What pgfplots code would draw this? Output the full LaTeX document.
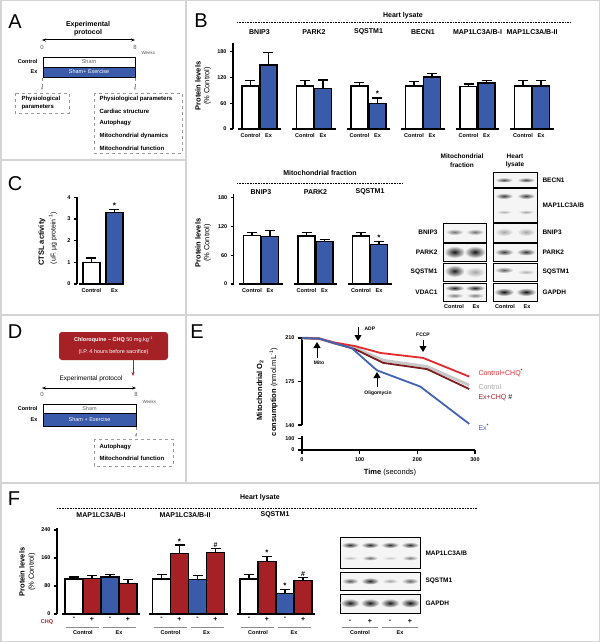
\documentclass[border=0pt]{standalone}
\usepackage{fontspec}
\setmainfont{Liberation Sans}
\usepackage{pgfplots}
\pgfplotsset{compat=1.18}
\usetikzlibrary{arrows.meta}
\definecolor{exblue}{HTML}{3A5BAA}
\definecolor{chqred}{HTML}{A52126}
\definecolor{panelgray}{HTML}{D4D4D4}
\definecolor{lnred}{HTML}{E2292E}
\definecolor{lndark}{HTML}{7A1E22}
\definecolor{lngray}{HTML}{C8C8C8}
\definecolor{lnblue}{HTML}{4262B2}
\newcommand{\fs}[1]{\fontsize{#1}{#1}\selectfont}
\newcommand{\band}[5]{\shade[inner color=black!#5, outer color=gray!8] (#1,#2) ellipse (#3pt and #4pt);}
\newcommand{\blot}[4]{\draw[line width=0.8pt, fill=gray!8] (#1,#2) rectangle (#3,#4);}
\tikzset{sig/.style={font=\fs{8}\bfseries, anchor=south, inner sep=0.5pt}}
\pgfplotsset{
 barax/.style={
   scale only axis, anchor=south west, clip=false,
   axis x line*=bottom, axis y line*=left,
   x axis line style={draw=none},
   y axis line style={-, line width=1.2pt},
   every tick/.style={black, line width=1.2pt},
   xtick style={draw=none},
   major tick length=3pt,
   tick align=outside,
   /pgf/number format/assume math mode=true,
   yticklabel style={font=\fs{5.5}\bfseries},
   xticklabel style={font=\fs{5.5}\bfseries, yshift=2pt},
   error bars/y dir=plus, error bars/y explicit,
   error bars/error bar style={line width=1.2pt, black},
   error bars/error mark options={rotate=90, mark size=5pt, line width=1.2pt, black},
 },
 ctl/.style={fill=white, draw=black, line width=1.2pt},
 exb/.style={fill=exblue, draw=black, line width=1.2pt},
 chq/.style={fill=chqred, draw=black, line width=1.2pt},
}

\begin{document}
\begin{tikzpicture}
\useasboundingbox (0,0) rectangle (600pt,-642pt);
\begin{scope}[x=1pt,y=-1pt]
 \fill[white] (0,0) rectangle (600,642);
 \draw[panelgray, line width=1.5pt] (0.75,0.75) rectangle (599.25,641.25);
 \draw[panelgray, line width=1.5pt] (0,315) -- (600,315) (0,483) -- (600,483) (186,0) -- (186,483) (0,160) -- (186,160);
\end{scope}

% ---------- B heart lysate ----------
\begin{axis}[barax, ybar=1pt, bar width=17pt, at={(233pt,-129pt)}, width=342pt, height=85.9pt,
 xmin=-0.486, xmax=5.789, ymin=0, ymax=200, ytick={0,60,120,180},
 xtick={-0.165,0.165,0.835,1.165,1.835,2.165,2.835,3.165,3.835,4.165,4.835,5.165},
 xticklabels={Control,Ex,Control,Ex,Control,Ex,Control,Ex,Control,Ex,Control,Ex}]
\addplot[ctl] coordinates {(0,100) +- (0,13) (1,100) +- (0,12) (2,100) +- (0,8) (3,100) +- (0,10) (4,99) +- (0,6) (5,100) +- (0,12)};
\addplot[exb] coordinates {(0,149) +- (0,30) (1,95) +- (0,19) (2,60) +- (0,12) (3,121) +- (0,9) (4,107) +- (0,6) (5,100) +- (0,12)};
\draw[line width=1.2pt] (axis cs:-0.4,0) -- (axis cs:0.4,0) (axis cs:0.6,0) -- (axis cs:1.4,0) (axis cs:1.6,0) -- (axis cs:2.4,0) (axis cs:2.6,0) -- (axis cs:3.4,0) (axis cs:3.6,0) -- (axis cs:4.4,0) (axis cs:4.6,0) -- (axis cs:5.4,0);
\node[sig] at (axis cs:2.165,73) {*};
\end{axis}

% ---------- B mitochondrial fraction ----------
\begin{axis}[barax, ybar=1pt, bar width=17pt, at={(233.75pt,-284pt)}, width=163.5pt, height=90.2pt,
 xmin=-0.5, xmax=2.5, ymin=0, ymax=188, ytick={0,60,120,180},
 xtick={-0.165,0.165,0.835,1.165,1.835,2.165},
 xticklabels={Control,Ex,Control,Ex,Control,Ex}]
\addplot[ctl] coordinates {(0,101) +- (0,7) (1,100) +- (0,8) (2,100) +- (0,8)};
\addplot[exb] coordinates {(0,99) +- (0,13) (1,89) +- (0,3) (2,82) +- (0,6)};
\draw[line width=1.2pt] (axis cs:-0.4,0) -- (axis cs:0.4,0) (axis cs:0.6,0) -- (axis cs:1.4,0) (axis cs:1.6,0) -- (axis cs:2.4,0);
\node[sig] at (axis cs:2.165,89) {*};
\end{axis}

% ---------- C ----------
\begin{axis}[barax, ybar=6pt, bar width=17pt, at={(77pt,-284pt)}, width=49pt, height=86.8pt,
 xmin=-1.13, xmax=1.0, ymin=0, ymax=4, ytick={0,1,2,3,4},
 xtick={-0.5,0.5}, xticklabels={Control,Ex}]
\addplot[ctl] coordinates {(0,1.0) +- (0,0.2)};
\addplot[exb] coordinates {(0,3.3) +- (0,0.15)};
\draw[line width=1.2pt] (axis cs:-1.04,0) -- (axis cs:0.91,0);
\node[sig] at (axis cs:0.5,3.46) {*};
\end{axis}

% ---------- E ----------
\begin{axis}[scale only axis, anchor=south west, at={(302pt,-450pt)}, width=173pt, height=112pt,
 xmin=0, xmax=300, ymin=120, ymax=210, clip=false,
 axis x line*=bottom, axis y line*=left,
 x axis line style={-, line width=1.3pt}, y axis line style={draw=none},
 xtick={0,100,200,300}, ytick={120,129.5,140,175,210}, yticklabels={0,100,140,175,210},
 tick align=outside, major tick length=4pt, every tick/.style={black, line width=1.3pt},
 tick label style={font=\fs{5.5}\bfseries}, /pgf/number format/assume math mode=true]
\draw[line width=1.3pt] (axis cs:0,210) -- (axis cs:0,140);
\draw[line width=1.3pt] (axis cs:0,131) -- (axis cs:0,120);
\addplot[lngray, line width=3pt] coordinates {(0,210) (30,209.5) (55,206) (92,202) (141,192) (217,187) (290,172)};
\addplot[lndark, line width=1.8pt] coordinates {(0,210) (30,209.5) (55,206) (92,201) (141,190) (217,185) (290,169)};
\addplot[lnred, line width=1.8pt] coordinates {(0,210) (30,209.5) (55,206.5) (92,203.5) (136,198) (210,194) (290,179)};
\addplot[lnblue, line width=1.8pt] coordinates {(0,210) (30,209.5) (55,206) (86,202) (130,184) (205,171) (290,141)};
\end{axis}

% ---------- F ----------
\begin{axis}[barax, ybar=0pt, bar width=18pt, at={(57pt,-614pt)}, width=262.8pt, height=85.75pt,
 xmin=-0.503, xmax=2.5, ymin=0, ymax=245, ytick={0,80,160,240},
 xtick={-0.3086,-0.1029,0.1029,0.3086,0.6914,0.8971,1.1029,1.3086,1.6914,1.8971,2.1029,2.3086},
 xticklabels={-,+,-,+,-,+,-,+,-,+,-,+},
 xticklabel style={font=\fs{7}\bfseries, yshift=1pt}]
\addplot[ctl] coordinates {(0,100) +- (0,6) (1,100) +- (0,13) (2,100) +- (0,13)};
\addplot[chq] coordinates {(0,102) +- (0,8) (1,172) +- (0,25) (2,149) +- (0,15)};
\addplot[exb] coordinates {(0,106) +- (0,7) (1,98) +- (0,12) (2,58) +- (0,13)};
\addplot[chq] coordinates {(0,87) +- (0,11) (1,175) +- (0,12) (2,96) +- (0,8)};
\draw[line width=1.2pt] (axis cs:-0.45,0) -- (axis cs:0.45,0) (axis cs:0.55,0) -- (axis cs:1.45,0) (axis cs:1.55,0) -- (axis cs:2.45,0);
\node[sig] at (axis cs:0.8971,198) {*};
\node[sig, font=\fs{7}\bfseries] at (axis cs:1.3086,189) {\#};
\node[sig] at (axis cs:1.8971,165) {*};
\node[sig] at (axis cs:2.1029,72) {*};
\node[sig, font=\fs{7}\bfseries] at (axis cs:2.3086,106) {\#};
\end{axis}

\begin{scope}[x=1pt,y=-1pt]
% ===== A =====
\node[font=\fs{20}] at (15,22) {A};
\node[font=\fs{7}\bfseries] at (88,25) {Experimental};
\node[font=\fs{7}\bfseries] at (88,33) {protocol};
\draw[line width=1pt, {Stealth[length=4pt]}-{Stealth[length=4pt]}] (42,40) -- (135,40);
\node[font=\fs{6}, text=black!65] at (42,47) {0};
\node[font=\fs{6}, text=black!65] at (135,47) {8};
\node[font=\fs{4.5}, text=black!65, anchor=west] at (138,53) {Weeks};
\node[font=\fs{5.5}\bfseries, anchor=east] at (41,62) {Control};
\draw[line width=0.8pt, fill=white] (43,57) rectangle (135,67);
\node[font=\fs{5.5}, text=black!60] at (89,62) {Sham};
\node[font=\fs{5.5}\bfseries, anchor=east] at (41,72) {Ex};
\draw[line width=0.8pt, fill=exblue] (43,67) rectangle (135,77);
\node[font=\fs{5.5}, text=white] at (89,72) {Sham+ Exercise};
\draw[black!45, dashed, line width=0.6pt, -{Stealth[length=3pt]}] (42,78) -- (42,90);
\draw[black!45, dashed, line width=0.6pt, -{Stealth[length=3pt]}] (135,78) -- (135,90);
\draw[black!40, dashed, line width=0.6pt] (15,93) rectangle (69,113);
\node[font=\fs{6}\bfseries, anchor=west] at (18,99) {Physiological};
\node[font=\fs{6}\bfseries, anchor=west] at (18,107) {parameters};
\draw[black!40, dashed, line width=0.6pt] (94,93) rectangle (182,153);
\node[font=\fs{6}\bfseries, anchor=west] at (96,99) {Physiological parameters};
\node[font=\fs{6}\bfseries, anchor=west] at (96,111) {Cardiac structure};
\node[font=\fs{6}\bfseries, anchor=west] at (96,123) {Autophagy};
\node[font=\fs{6}\bfseries, anchor=west] at (96,136) {Mitochondrial dynamics};
\node[font=\fs{6}\bfseries, anchor=west] at (96,148) {Mitochondrial function};

% ===== B =====
\node[font=\fs{20}] at (201,21) {B};
\node[font=\fs{7}\bfseries] at (403,16) {Heart lysate};
\draw[line width=0.6pt, dash pattern=on 0.7pt off 0.9pt] (237,22) -- (570,22);
\foreach \x/\t in {259.5/{BNIP3}, 314/{PARK2}, 368.5/{SQSTM1}, 423/{BECN1}, 477.5/{MAP1LC3A/B-I}, 532/{MAP1LC3A/B-II}}
  \node[font=\fs{7}\bfseries] at (\x,32) {\t};
\node[rotate=90, font=\fs{7.5}\bfseries] at (198,86) {Protein levels};
\node[rotate=90, font=\fs{7.5}] at (207.5,86) {(\% Control)};

\node[font=\fs{7}\bfseries] at (320,173) {Mitochondrial fraction};
\draw[line width=0.6pt, dash pattern=on 0.7pt off 0.9pt] (237,183) -- (403,183);
\foreach \x/\t in {261/BNIP3, 315.5/PARK2, 370/SQSTM1}
  \node[font=\fs{7}\bfseries] at (\x,192) {\t};
\node[rotate=90, font=\fs{7.5}\bfseries] at (198,243) {Protein levels};
\node[rotate=90, font=\fs{7.5}] at (207.5,243) {(\% Control)};

% blots B
\node[font=\fs{6.5}\bfseries] at (462,156) {Mitochondrial};
\node[font=\fs{6.5}\bfseries] at (462,165) {fraction};
\node[font=\fs{6.5}\bfseries] at (515,156) {Heart};
\node[font=\fs{6.5}\bfseries] at (515,165) {lysate};
\blot{443}{223}{486}{242} \band{454.5}{232}{9}{3}{55} \band{475}{232}{9}{3}{55}
\blot{443}{243}{486}{261} \band{454.5}{252}{10.5}{6}{92} \band{475}{252}{10.5}{6}{92}
\blot{443}{263}{486}{281} \band{454.5}{271}{10}{6}{88} \band{475}{272}{10}{5}{35}
\blot{443}{283}{486}{301} \band{454.5}{288}{10}{3}{85} \band{475}{288}{10}{3}{85}
  \band{454.5}{295.5}{9}{2.5}{50} \band{475}{295.5}{9}{2.5}{50}
\blot{493}{172}{537}{187} \band{504}{180}{9}{2.5}{70} \band{526}{180}{9}{2.5}{70}
\blot{493}{188}{537}{222} \band{504}{196}{9}{3}{75} \band{526}{196}{9}{3}{75}
  \band{504}{212}{8}{2}{30} \band{526}{212}{8}{2}{35}
\blot{493}{223}{537}{242} \band{504}{232}{9}{4}{35} \band{526}{232}{9}{4}{35}
\blot{493}{243}{537}{261} \band{504}{252}{9.5}{3.5}{75} \band{526}{252}{9.5}{3.5}{78}
\blot{493}{263}{537}{281} \band{504}{270}{9.5}{3}{62} \band{526}{272}{9}{2.5}{30}
\blot{493}{283}{537}{301} \band{504}{292}{10}{4}{92} \band{526}{292}{10}{4}{92}
\foreach \y/\t in {232/BNIP3, 252/PARK2, 272/SQSTM1, 292/VDAC1}
  \node[font=\fs{6.5}\bfseries, anchor=east] at (441,\y) {\t};
\foreach \y/\t in {180/{BECN1}, 205/{MAP1LC3A/B}, 232/{BNIP3}, 252/{PARK2}, 272/{SQSTM1}, 292/{GAPDH}}
  \node[font=\fs{6.5}\bfseries, anchor=west] at (539,\y) {\t};
\node[font=\fs{5.5}\bfseries] at (454,307) {Control};
\node[font=\fs{5.5}\bfseries] at (476,307) {Ex};
\node[font=\fs{5.5}\bfseries] at (505,307) {Control};
\node[font=\fs{5.5}\bfseries] at (527,307) {Ex};

% ===== C =====
\node[font=\fs{20}] at (15,184) {C};
\node[rotate=90, font=\fs{7.5}\bfseries] at (42,242) {CTSL activity};
\node[rotate=90, font=\fs{7}] at (53,238) {(uF. µg protein\textsuperscript{-1})};

% ===== D =====
\node[font=\fs{20}] at (15,332) {D};
\fill[chqred, rounded corners=3pt] (59,332) rectangle (168,360);
\node[font=\fs{5.5}, text=white] at (113.5,340) {\textbf{Chloroquine – CHQ} 50 mg.kg\textsuperscript{-1}};
\node[font=\fs{5.5}, text=white] at (113.5,352) {(I.P. 4 hours before sacrifice)};
\draw[chqred, line width=1pt, -{Stealth[length=4pt]}] (133,360) -- (133,376);
\node[font=\fs{6.5}] at (91,379) {Experimental protocol};
\draw[line width=1pt, {Stealth[length=4pt]}-{Stealth[length=4pt]}] (42,388) -- (136,388);
\node[font=\fs{6}, text=black!65] at (42,394) {0};
\node[font=\fs{6}, text=black!65] at (136,394) {8};
\node[font=\fs{4.5}, text=black!65, anchor=west] at (139,402) {Weeks};
\node[font=\fs{5.5}\bfseries, anchor=east] at (41,409) {Control};
\draw[line width=0.8pt, fill=white] (43,404) rectangle (136,413);
\node[font=\fs{5.5}, text=black!60] at (89.5,408.5) {Sham};
\node[font=\fs{5.5}\bfseries, anchor=east] at (41,420) {Ex};
\draw[line width=0.8pt, fill=exblue] (43,413) rectangle (136,426);
\node[font=\fs{5.5}, text=white] at (89.5,419.5) {Sham + Exercise};
\draw[black!45, dashed, line width=0.6pt, -{Stealth[length=3pt]}] (136,427) -- (136,437);
\draw[black!40, dashed, line width=0.6pt] (94,439) rectangle (173,466);
\node[font=\fs{6}\bfseries, anchor=west] at (96,447) {Autophagy};
\node[font=\fs{6}\bfseries, anchor=west] at (96,458) {Mitochondrial function};

% ===== E =====
\node[font=\fs{20}] at (197,332) {E};
\node[rotate=90, font=\fs{7.5}\bfseries] at (260,390) {Mitochondrial O\textsubscript{2}};
\node[rotate=90, font=\fs{7.5}] at (273.5,392) {\textbf{consumption} (nmol.mL\textsuperscript{-1})};
\node[font=\fs{7.5}] at (390,473) {\textbf{Time} (seconds)};
\draw[line width=1pt, -{Triangle[width=7pt,length=6pt]}] (317,358) -- (317,342);
\node[font=\fs{5}\bfseries] at (319,363) {Mito};
\draw[line width=1pt, -{Triangle[width=7pt,length=6pt]}] (377,387) -- (377,372);
\node[font=\fs{5}\bfseries] at (378,393) {Oligomycin};
\draw[line width=1pt, -{Triangle[width=7pt,length=6pt]}] (358,327) -- (358,341);
\node[font=\fs{5}\bfseries, anchor=west] at (361,329) {ADP};
\draw[line width=1pt, -{Triangle[width=7pt,length=6pt]}] (423,340) -- (423,352);
\node[font=\fs{5}\bfseries] at (423,335) {FCCP};
\node[font=\fs{7}, text=lnred, anchor=west] at (475,373) {Control+CHQ\textsuperscript{\textcolor{black}{*}}};
\node[font=\fs{7}, text=black!35, anchor=west] at (475,387) {Control};
\node[font=\fs{7}, text=chqred, anchor=west] at (475,398) {Ex+CHQ \textcolor{black}{\#}};
\node[font=\fs{7}, text=lnblue, anchor=west] at (475,427) {Ex\textsuperscript{\textcolor{black}{*}}};

% ===== F =====
\node[font=\fs{20}] at (14,499) {F};
\node[font=\fs{7}\bfseries] at (260,498) {Heart lysate};
\draw[line width=0.6pt, dash pattern=on 0.7pt off 0.9pt] (57,508) -- (477,508);
\node[font=\fs{7}\bfseries] at (101,515) {MAP1LC3A/B-I};
\node[font=\fs{7}\bfseries] at (185,515) {MAP1LC3A/B-II};
\node[font=\fs{7}\bfseries] at (275,515) {SQSTM1};
\node[rotate=90, font=\fs{7.5}\bfseries] at (22,572) {Protein levels};
\node[rotate=90, font=\fs{7.5}] at (32,572) {(\% Control)};
\node[font=\fs{5.5}\bfseries, text=chqred] at (47,622) {CHQ};
\foreach \g in {0,87.5,175}{
  \draw[black!45, line width=0.8pt] (66+\g,627) -- (99+\g,627) (103+\g,627) -- (136+\g,627);
  \node[font=\fs{5.5}\bfseries] at (83+\g,632.5) {Control};
  \node[font=\fs{5.5}\bfseries] at (119+\g,632.5) {Ex};
}
% F blot
\blot{340}{537}{420}{568}
\band{350}{545}{9}{3}{80} \band{370}{545}{9}{3}{82} \band{390}{545}{9}{3}{80} \band{410}{545}{9}{3}{80}
\band{350}{558}{8}{2}{25} \band{370}{558}{8}{2.5}{55} \band{390}{558}{8}{2}{20} \band{410}{558}{8}{2.5}{50}
\blot{340}{572}{420}{590}
\band{350}{581}{8.5}{3}{65} \band{370}{581}{9}{3.5}{85} \band{390}{581}{8}{2.5}{35} \band{410}{581}{8.5}{3}{60}
\blot{340}{594}{420}{613}
\band{350}{603}{9.5}{4.5}{90} \band{370}{603}{9.5}{4.5}{90} \band{390}{603}{9.5}{4.5}{90} \band{410}{603}{9.5}{4.5}{92}
\node[font=\fs{6.5}\bfseries, anchor=west] at (422,553) {MAP1LC3A/B};
\node[font=\fs{6.5}\bfseries, anchor=west] at (422,581) {SQSTM1};
\node[font=\fs{6.5}\bfseries, anchor=west] at (422,603) {GAPDH};
\foreach \x/\t in {350/-, 370/+, 390/-, 410/+}
  \node[font=\fs{7}\bfseries] at (\x,621) {\t};
\draw[black!45, line width=0.8pt] (342,627) -- (378,627) (382,627) -- (418,627);
\node[font=\fs{5.5}\bfseries] at (360,632.5) {Control};
\node[font=\fs{5.5}\bfseries] at (400,632.5) {Ex};
\end{scope}
\end{tikzpicture}
\end{document}
